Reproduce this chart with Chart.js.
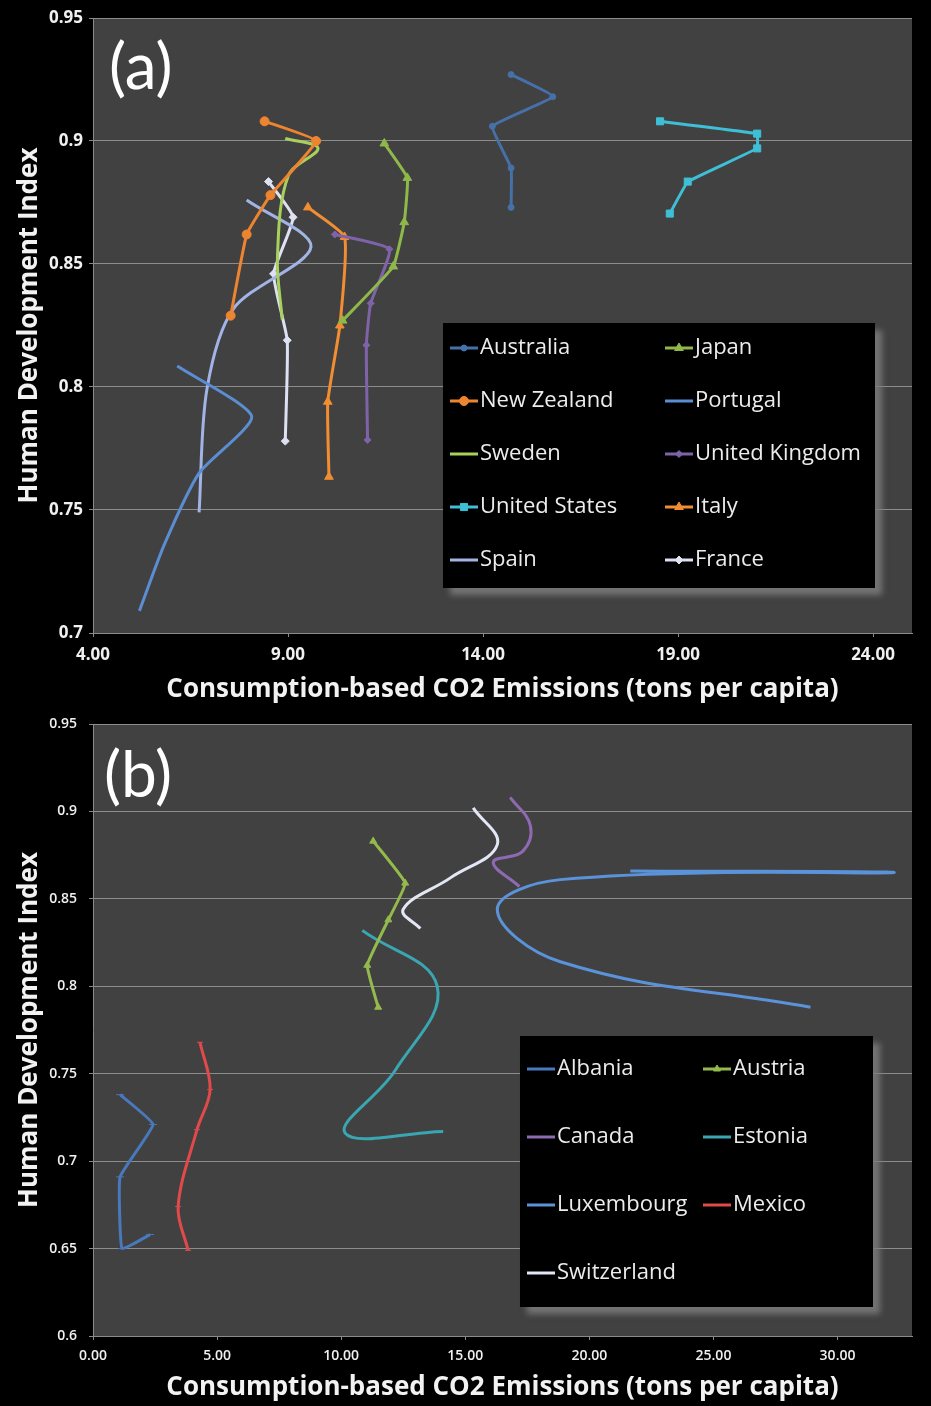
<!DOCTYPE html>
<html>
<head>
<meta charset="utf-8">
<script src="https://cdn.jsdelivr.net/npm/chart.js@4/dist/chart.umd.min.js"></script>
<style>
  html, body { margin: 0; padding: 0; background: #000; }
  #wrap { position: relative; width: 931px; height: 1406px; background: #000; overflow: hidden; }
  canvas { position: absolute; left: 0; }
</style>
</head>
<body>
<div id="wrap">
  <canvas id="panelA" width="931" height="703" style="top:0"></canvas>
  <canvas id="panelB" width="931" height="703" style="top:703px"></canvas>
</div>
<script>
// ---- Panel (a): consumption-based CO2 (t per capita) vs HDI ----
const australiaCO2   = [14.72, 14.72, 14.24, 15.79, 14.72];
const australiaHDI   = [0.873, 0.889, 0.906, 0.918, 0.927];
const japanCO2       = [10.40, 11.70, 11.98, 12.06, 11.47];
const japanHDI       = [0.827, 0.849, 0.867, 0.885, 0.899];
const newZealandCO2  = [7.53, 7.94, 8.55, 9.72, 8.40];
const newZealandHDI  = [0.829, 0.862, 0.878, 0.900, 0.908];
const portugalCO2    = [5.19, 5.83, 6.72, 8.07, 6.16];
const portugalHDI    = [0.709, 0.736, 0.765, 0.788, 0.8085];
const swedenCO2      = [8.85, 8.73, 9.01, 9.77, 8.93];
const swedenHDI      = [0.8275, 0.853, 0.886, 0.897, 0.901];
const ukCO2          = [11.04, 11.01, 11.12, 11.60, 10.20];
const ukHDI          = [0.7785, 0.817, 0.834, 0.856, 0.862];
const usCO2          = [18.79, 19.25, 21.03, 21.03, 18.54];
const usHDI          = [0.8705, 0.8835, 0.897, 0.903, 0.908];
const italyCO2       = [10.05, 10.02, 10.33, 10.45, 9.51];
const italyHDI       = [0.7635, 0.794, 0.825, 0.861, 0.873];
const spainCO2       = [6.72, 6.92, 7.61, 9.59, 7.94];
const spainHDI       = [0.749, 0.799, 0.832, 0.857, 0.876];
const franceCO2      = [8.93, 8.98, 8.63, 9.13, 8.50];
const franceHDI      = [0.778, 0.819, 0.846, 0.869, 0.8835];

// ---- Panel (b) ----
const albaniaCO2     = [2.30, 1.17, 1.09, 2.42, 1.09];
const albaniaHDI     = [0.658, 0.650, 0.691, 0.721, 0.738];
const austriaCO2     = [11.49, 11.05, 11.90, 12.58, 11.29];
const austriaHDI     = [0.788, 0.812, 0.838, 0.859, 0.883];
const canadaCO2      = [17.18, 16.13, 17.30, 17.62, 16.81];
const canadaHDI      = [0.857, 0.871, 0.877, 0.892, 0.908];
const estoniaCO2     = [14.11, 10.16, 12.18, 13.87, 10.85];
const estoniaHDI     = [0.717, 0.716, 0.752, 0.800, 0.832];
const luxembourgCO2  = [28.91, 18.83, 16.29, 18.83, 32.26, 21.65];
const luxembourgHDI  = [0.788, 0.814, 0.844, 0.861, 0.865, 0.866];
const mexicoCO2      = [3.83, 3.43, 4.19, 4.72, 4.31];
const mexicoHDI      = [0.649, 0.674, 0.718, 0.741, 0.768];
const switzerlandCO2 = [13.19, 12.50, 14.40, 16.29, 15.32];
const switzerlandHDI = [0.833, 0.844, 0.862, 0.881, 0.902];

// ---- Axis ticks ----
const topXTicks    = [4, 9, 14, 19, 24];
const topYTicks    = [0.7, 0.75, 0.8, 0.85, 0.9, 0.95];
const bottomXTicks = [0, 5, 10, 15, 20, 25, 30];
const bottomYTicks = [0.6, 0.65, 0.7, 0.75, 0.8, 0.85, 0.9, 0.95];

const xTitle = 'Consumption-based CO2 Emissions (tons per capita)';
const yTitle = 'Human Development Index';

// ---- Series look ----
const looks = {
  'Australia':      { color: '#4670a8', style: 'circle',   r: 3,   t: 0.1 },
  'Japan':          { color: '#8fb84a', style: 'triangle', r: 5,   t: 0.1 },
  'New Zealand':    { color: '#ec8430', style: 'circle',   r: 4.5, t: 0.1 },
  'Portugal':       { color: '#5b8dd2', style: 'line',     r: 0,   t: 0.2 },
  'Sweden':         { color: '#a9d05c', style: 'circle',   r: 0,   t: 0.35 },
  'United Kingdom': { color: '#7f63a8', style: 'rectRot',  r: 3.5, t: 0.15 },
  'United States':  { color: '#3fbfd6', style: 'rect',     r: 5,   t: 0.05 },
  'Italy':          { color: '#f18d32', style: 'triangle', r: 5,   t: 0.15 },
  'Spain':          { color: '#a2b3e6', style: 'line',     r: 0,   t: 0.3 },
  'France':         { color: '#dde1f2', style: 'rectRot',  r: 4,   t: 0.15 },
  'Albania':        { color: '#4a78bc', style: 'line',     r: 4,   t: 0.1 },
  'Austria':        { color: '#95ba4c', style: 'triangle', r: 4,   t: 0.1 },
  'Canada':         { color: '#8e6ab2', style: 'line',     r: 0,   t: 0.4 },
  'Estonia':        { color: '#3aa6b2', style: 'line',     r: 0,   t: 0.4 },
  'Luxembourg':     { color: '#5b93da', style: 'line',     r: 0,   t: 0.4 },
  'Mexico':         { color: '#e04a4a', style: 'line',     r: 3,   t: 0.35 },
  'Switzerland':    { color: '#e3e6f5', style: 'line',     r: 0,   t: 0.4 }
};

function series(label, xs, ys) {
  const lk = looks[label];
  return {
    label,
    data: xs.map((x, i) => ({ x, y: ys[i] })),
    showLine: true,
    borderColor: lk.color,
    backgroundColor: lk.color,
    borderWidth: 3,
    pointStyle: lk.style,
    pointRadius: lk.r,
    pointHoverRadius: lk.r,
    pointBorderWidth: 1,
    tension: lk.t
  };
}

// dark plotting surface behind the data
const plotSurface = {
  id: 'plotSurface',
  beforeDraw(chart) {
    const { ctx, chartArea: a } = chart;
    ctx.save();
    ctx.fillStyle = '#414141';
    ctx.fillRect(a.left, a.top, a.right - a.left, a.bottom - a.top);
    ctx.restore();
  }
};

// panel letter and boxed two-column legend drawn inside the plot
const panelDecor = {
  id: 'panelDecor',
  afterDraw(chart, args, o) {
    const { ctx, chartArea: a } = chart;
    ctx.save();
    ctx.font = o.tagFont;
    ctx.fillStyle = '#ffffff';
    ctx.textBaseline = 'middle';
    ctx.fillText(o.tag, a.left + o.tagDx, a.top + o.tagDy);
    ctx.restore();

    const b = o.box;
    ctx.save();
    ctx.shadowColor = 'rgba(125,125,125,0.85)';
    ctx.shadowBlur = 6;
    ctx.shadowOffsetX = 7;
    ctx.shadowOffsetY = 7;
    ctx.fillStyle = '#000';
    ctx.fillRect(b.x, b.y, b.w, b.h);
    ctx.restore();

    ctx.save();
    ctx.font = o.font;
    ctx.textBaseline = 'middle';
    chart.data.datasets.forEach((ds, i) => {
      const col = i % 2, row = Math.floor(i / 2);
      const sx = b.x + o.colX[col];
      const sy = b.y + o.rowY0 + row * o.rowGap;
      ctx.strokeStyle = ds.borderColor;
      ctx.lineWidth = 3;
      ctx.beginPath();
      ctx.moveTo(sx, sy);
      ctx.lineTo(sx + o.sample, sy);
      ctx.stroke();
      if (ds.pointRadius > 0) {
        ctx.fillStyle = ds.backgroundColor;
        ctx.lineWidth = 1;
        Chart.helpers.drawPoint(ctx, { pointStyle: ds.pointStyle, radius: ds.pointRadius, rotation: 0, borderWidth: 1 }, sx + o.sample / 2, sy);
      }
      ctx.fillStyle = '#ececec';
      ctx.fillText(ds.label, sx + o.sample + 2, sy);
    });
    ctx.restore();
  }
};

function makeOptions(xMin, xMax, yMin, yMax, xTicks, yTicks, padTop, titleBottomPad, tickFont, yTickPad, decor) {
  const titleFont = { family: 'Open Sans', size: 26, weight: 'bold', lineHeight: 1 };
  return {
    responsive: false,
    animation: false,
    devicePixelRatio: 1,
    layout: { padding: { top: padTop, right: 19, left: 0, bottom: 0 } },
    plugins: {
      legend: { display: false },
      tooltip: { enabled: false },
      panelDecor: decor
    },
    scales: {
      x: {
        type: 'linear',
        min: xMin, max: xMax,
        afterBuildTicks(s) { s.ticks = xTicks.map(v => ({ value: v })); },
        afterFit(s) { s.height = 70; },
        grid: { drawOnChartArea: false, drawTicks: true, tickLength: 4, tickColor: '#8a8a8a' },
        border: { display: true, color: '#8a8a8a', width: 1 },
        ticks: { color: '#f0f0f0', font: tickFont, padding: 8, maxRotation: 0, callback: v => Number(v).toFixed(2) },
        title: { display: true, text: xTitle, color: '#f2f2f2', font: titleFont, padding: { top: 0, bottom: titleBottomPad } }
      },
      y: {
        type: 'linear',
        min: yMin, max: yMax,
        afterBuildTicks(s) { s.ticks = yTicks.map(v => ({ value: v })); },
        afterFit(s) { s.width = 93; },
        grid: { color: '#8c8c8c', lineWidth: 1, drawTicks: true, tickLength: 4, tickColor: '#8a8a8a' },
        border: { display: true, color: '#8a8a8a', width: 1 },
        ticks: { color: '#f0f0f0', font: tickFont, padding: yTickPad, callback: v => String(+Number(v).toFixed(2)) },
        title: { display: true, text: yTitle, color: '#f2f2f2', font: titleFont, padding: { top: 17, bottom: 0 } }
      }
    }
  };
}

new Chart(document.getElementById('panelA'), {
  type: 'scatter',
  data: {
    datasets: [
      series('Australia', australiaCO2, australiaHDI),
      series('Japan', japanCO2, japanHDI),
      series('New Zealand', newZealandCO2, newZealandHDI),
      series('Portugal', portugalCO2, portugalHDI),
      series('Sweden', swedenCO2, swedenHDI),
      series('United Kingdom', ukCO2, ukHDI),
      series('United States', usCO2, usHDI),
      series('Italy', italyCO2, italyHDI),
      series('Spain', spainCO2, spainHDI),
      series('France', franceCO2, franceHDI)
    ]
  },
  options: makeOptions(4, 25, 0.7, 0.95, topXTicks, topYTicks, 18, 0,
    { family: 'Open Sans', size: 17, weight: 'bold' }, 6, {
    tag: '(a)', tagFont: '64px Lato', tagDx: 16, tagDy: 50,
    font: '22px Open Sans',
    box: { x: 443, y: 323, w: 432, h: 265 },
    colX: [7, 222], rowY0: 25, rowGap: 53, sample: 28
  }),
  plugins: [plotSurface, panelDecor]
});

new Chart(document.getElementById('panelB'), {
  type: 'scatter',
  data: {
    datasets: [
      series('Albania', albaniaCO2, albaniaHDI),
      series('Austria', austriaCO2, austriaHDI),
      series('Canada', canadaCO2, canadaHDI),
      series('Estonia', estoniaCO2, estoniaHDI),
      series('Luxembourg', luxembourgCO2, luxembourgHDI),
      series('Mexico', mexicoCO2, mexicoHDI),
      series('Switzerland', switzerlandCO2, switzerlandHDI)
    ]
  },
  options: makeOptions(0, 33, 0.6, 0.95, bottomXTicks, bottomYTicks, 21, 5,
    { family: 'Open Sans', size: 14, weight: '600' }, 12, {
    tag: '(b)', tagFont: '64px Lato', tagDx: 11, tagDy: 52,
    font: '22px Open Sans',
    box: { x: 520, y: 333, w: 353, h: 271 },
    colX: [7, 183], rowY0: 33, rowGap: 68, sample: 28
  }),
  plugins: [plotSurface, panelDecor]
});
</script>
</body>
</html>
